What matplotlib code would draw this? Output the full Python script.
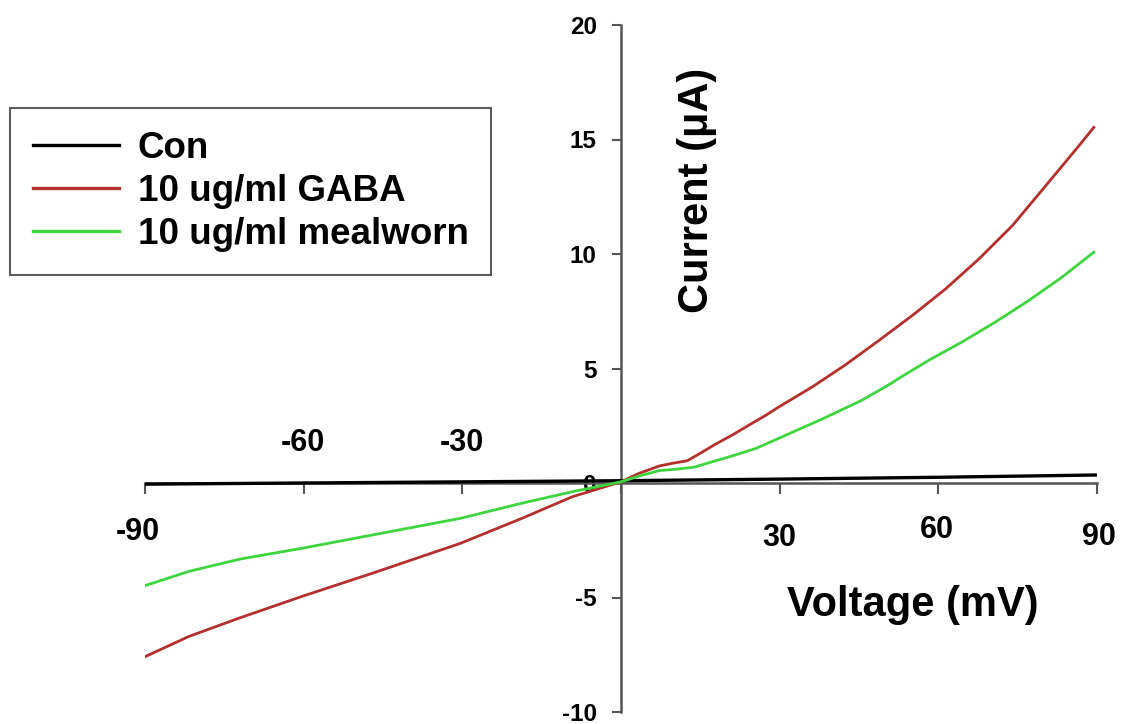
import matplotlib
matplotlib.use("Agg")
import matplotlib.pyplot as plt

plt.rcParams['font.family'] = ['Liberation Sans', 'DejaVu Sans']
plt.rcParams['font.weight'] = 'bold'

# Data
v_con = [-90, -60, -30, 0, 30, 60, 90]
i_con = [-0.05, 0.0, 0.05, 0.1, 0.17, 0.25, 0.35]

v_gaba = [-90.5, -81.7, -72.2, -60.3, -47.0, -30.3, -18.7, -9.2, 0.0, 3.4, 7.2, 9.7,
          12.5, 14.7, 17.9, 21.0, 24.2, 27.4, 29.9, 36.2, 42.5, 48.8, 55.1, 61.4,
          67.7, 74.0, 80.3, 86.6, 89.4]
i_gaba = [-7.64, -6.70, -5.90, -4.95, -3.94, -2.63, -1.54, -0.60, 0.05, 0.42, 0.74, 0.86,
          0.97, 1.26, 1.70, 2.09, 2.53, 2.96, 3.33, 4.20, 5.17, 6.23, 7.32, 8.48,
          9.79, 11.24, 12.98, 14.73, 15.53]

v_meal = [-90.5, -81.7, -72.2, -60.3, -47.0, -30.3, -18.7, -9.2, 0.0, 3.4, 7.2, 10.3,
          13.8, 17.3, 21.0, 25.5, 30.5, 38.1, 45.6, 51.3, 52.6, 58.2, 64.5, 70.8,
          77.1, 83.4, 89.4]
i_meal = [-4.52, -3.86, -3.33, -2.85, -2.27, -1.54, -0.88, -0.38, 0.05, 0.30, 0.54, 0.60,
          0.69, 0.93, 1.18, 1.51, 2.02, 2.80, 3.62, 4.38, 4.58, 5.36, 6.16, 7.03,
          7.97, 8.99, 10.08]

labels = ['Con', '10 ug/ml GABA', '10 ug/ml mealworn']
x_ticks = [-90, -60, -30, 0, 30, 60, 90]
x_ticklabels = ['-90', '-60', '-30', '', '30', '60', '90']
y_ticks = [-10, -5, 0, 5, 10, 15, 20]
y_ticklabels = ['-10', '-5', '0', '5', '10', '15', '20']

fig = plt.figure(figsize=(11.23, 7.24), dpi=100)
ax = fig.add_axes([145/1123, 1-712/724, (1097-145)/1123, (712-25)/724])

ax.plot(v_con, i_con, color='black', lw=2.4, label=labels[0], zorder=3)
ax.plot(v_gaba, i_gaba, color='#b5302c', lw=2.0, label=labels[1], zorder=4)
ax.plot(v_meal, i_meal, color='#3ed63e', lw=2.0, label=labels[2], zorder=4)

ax.set_xlim(-90, 90)
ax.set_ylim(-10, 20)
for s in ['top', 'right']:
    ax.spines[s].set_visible(False)
ax.spines['left'].set_position(('data', 0))
ax.spines['bottom'].set_position(('data', 0))
for s in ['left', 'bottom']:
    ax.spines[s].set_color('#555555')
    ax.spines[s].set_linewidth(1.8)

ax.set_xticks(x_ticks)
ax.set_xticklabels([''] * len(x_ticks))
ax.set_yticks(y_ticks)
ax.set_yticklabels(y_ticklabels, fontsize=17.5, fontweight='bold')
ax.tick_params(axis='x', direction='out', length=8, width=1.5, color='#555555')
ax.tick_params(axis='y', direction='out', length=6.5, width=1.5, color='#555555', pad=11)

# x tick labels placed where the original figure puts them
xlab_pos = [(-91.3, -2.13), (-60.1, 1.74), (-30.0, 1.74), None,
            (29.9, -2.40), (59.7, -2.05), (90.4, -2.35)]
for lab, pos in zip(x_ticklabels, xlab_pos):
    if pos is None:
        continue
    ax.text(pos[0], pos[1], lab, ha='center', va='center', fontsize=22,
            fontweight='bold', clip_on=False)

ax.text(14.4, 12.77, 'Current (μA)', rotation=90, ha='center', va='center',
        fontsize=30, fontweight='bold')
ax.text(55.2, -5.32, 'Voltage (mV)', ha='center', va='center',
        fontsize=30, fontweight='bold')

leg = ax.legend(loc='upper left', bbox_to_anchor=(10/1123, 1-108/724),
                bbox_transform=fig.transFigure, borderaxespad=0,
                prop={'family': 'Liberation Sans', 'weight': 'bold', 'size': 26.5},
                handlelength=2.35, handletextpad=0.5, labelspacing=0.22,
                borderpad=0.62, fancybox=False, frameon=True)
leg.get_frame().set_edgecolor('#333333')
leg.get_frame().set_linewidth(1.5)
for line in leg.get_lines():
    line.set_linewidth(2.4)

fig.savefig('out.png', dpi=100)
